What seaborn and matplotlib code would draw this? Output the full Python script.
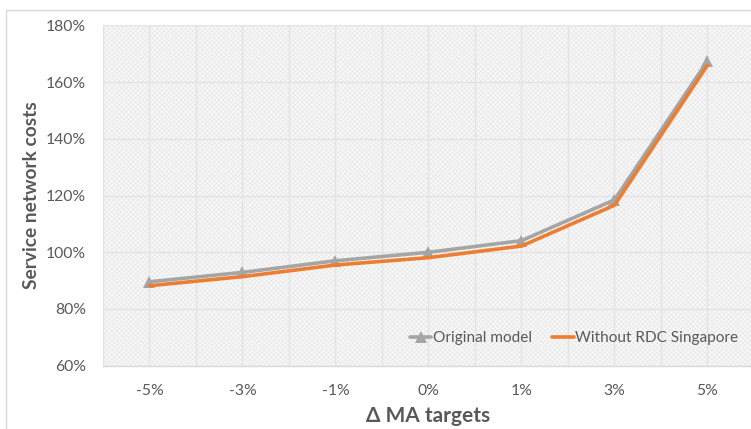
import matplotlib
matplotlib.use("Agg")
import matplotlib.pyplot as plt
from matplotlib.patches import Rectangle
from matplotlib.ticker import FuncFormatter, MultipleLocator
import numpy as np
import pandas as pd
import seaborn as sns

# Sensitivity of service network costs to changes in MA targets
ma_targets = ["-5%", "-3%", "-1%", "0%", "1%", "3%", "5%"]
original_model = [89.6, 92.9, 97.0, 100.0, 104.1, 118.5, 167.5]
without_rdc_singapore = [88.2, 91.4, 95.5, 98.1, 102.2, 116.6, 166.0]
series_names = ["Original model", "Without RDC Singapore"]
series_colors = ["#a5a5a5", "#ed7d31"]
series_markers = ["^", ""]

df = pd.DataFrame({
    "target": ma_targets * 2,
    "cost": original_model + without_rdc_singapore,
    "series": [series_names[0]] * len(ma_targets) + [series_names[1]] * len(ma_targets),
})

sns.set_theme(style="white")
plt.rcParams["font.family"] = ["Lato", "DejaVu Sans"]
plt.rcParams["hatch.linewidth"] = 0.4
text_color = "#595959"

fig = plt.figure(figsize=(7.51, 4.29), dpi=100)
ax = fig.add_axes([0.137, 0.1476, 0.867, 0.793])

# Chart area border
fig.patches.append(Rectangle((6.5 / 751, -0.05), 1.0, 1 - 10 / 429 + 0.05,
                             transform=fig.transFigure, fill=False,
                             edgecolor="#d9d9d9", linewidth=1.0, zorder=0))

# Textured plot area background
ax.set_facecolor("white")
ax.add_patch(Rectangle((0, 0), 1, 1, transform=ax.transAxes, facecolor="#f8f8f8",
                       hatch="xxxxxxx", edgecolor="#e4e4e4", linewidth=0, zorder=0))

for name, color, marker in zip(series_names, series_colors, series_markers):
    sub = df[df["series"] == name]
    sns.lineplot(data=sub, x="target", y="cost", color=color, marker=marker,
                 linewidth=2.6, markersize=8, markeredgewidth=0, sort=False,
                 label=name, ax=ax, zorder=3)

ax.set_xlim(-0.5, 6.5)
ax.set_ylim(60, 180)
ax.yaxis.set_major_locator(MultipleLocator(20))
ax.yaxis.set_major_formatter(FuncFormatter(lambda v, p: f"{v:.0f}%"))
ax.set_xticks(np.arange(-0.5, 7.0, 1.0), minor=True)

ax.grid(which="both", axis="x", color="#e3e3e3", linewidth=1.0, zorder=1)
ax.grid(which="major", axis="y", color="#e3e3e3", linewidth=1.0, zorder=1)
ax.set_axisbelow(True)

for side in ["left", "right", "top"]:
    ax.spines[side].set_visible(False)
ax.spines["bottom"].set_color("#d9d9d9")
ax.spines["bottom"].set_linewidth(1.0)

ax.tick_params(axis="both", which="both", length=0, labelsize=11.3,
               labelcolor=text_color)
ax.tick_params(axis="x", pad=13)
ax.tick_params(axis="y", pad=12)

ax.set_xlabel("Δ MA targets", fontsize=15, fontweight="bold", color=text_color,
              labelpad=6)
ax.set_ylabel("Service network costs", fontsize=13.8, fontweight="bold",
              color=text_color)
ax.yaxis.set_label_coords(-0.097, 0.5)

leg = ax.legend(loc="lower right", bbox_to_anchor=(0.997, 0.02), ncol=2,
                frameon=False, fontsize=11.1, handlelength=1.4,
                handletextpad=0.1, columnspacing=1.3, labelcolor=text_color)

fig.savefig("out.png", dpi=100)
